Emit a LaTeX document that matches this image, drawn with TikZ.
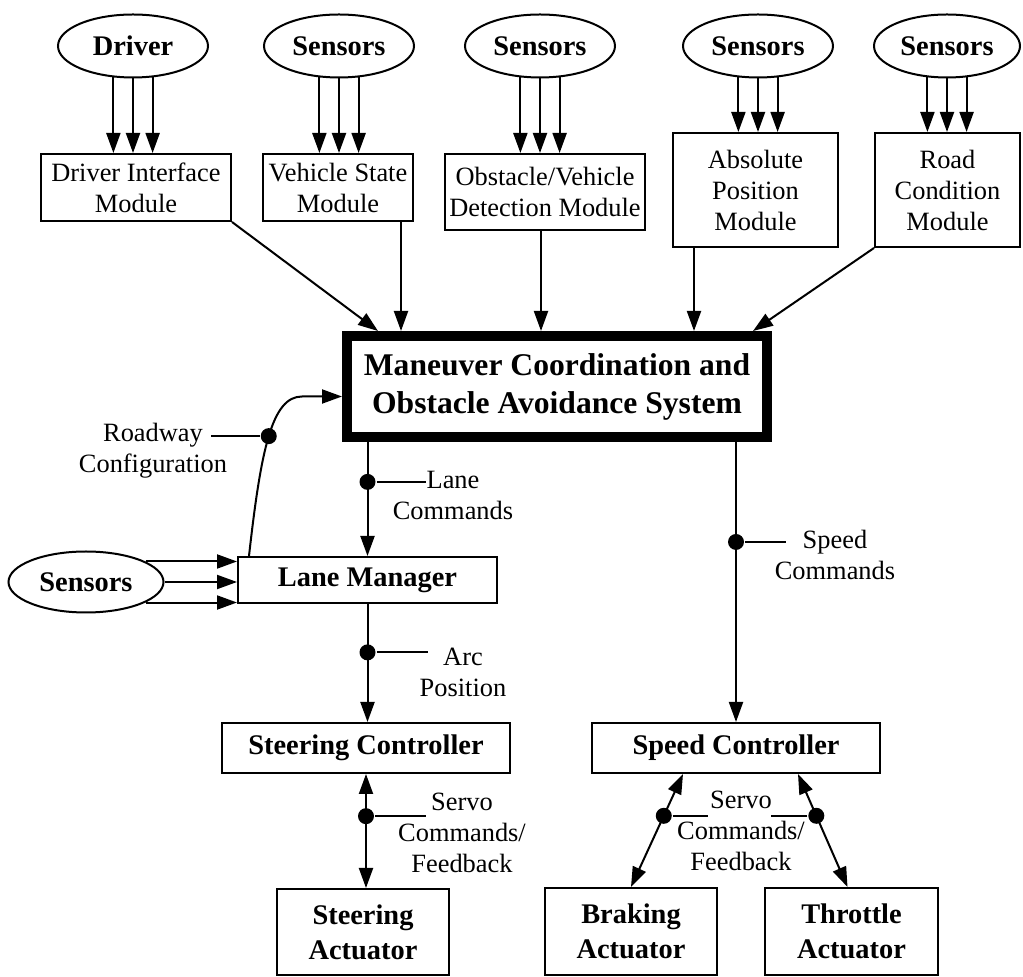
\documentclass[tikz,border=0pt]{standalone}
\usepackage{fontspec}
\setmainfont{Liberation Serif}
\usetikzlibrary{shapes.geometric, arrows.meta, calc}
\tikzset{
  mcbox/.style={rectangle, draw, line width=1pt, align=center, inner sep=1pt,
    font=\fontsize{13.2}{15.5}\selectfont},
  mcbold/.style={rectangle, draw, line width=1pt, align=center, inner sep=1pt,
    font=\fontsize{14.2}{17.5}\selectfont\bfseries},
  mcsrc/.style={ellipse, draw, line width=1pt, minimum width=75pt,
    minimum height=31.5pt, inner sep=0pt, font=\fontsize{14.2}{17}\selectfont\bfseries},
  mcmain/.style={rectangle, draw, line width=5pt, align=center,
    minimum width=210pt, minimum height=50.5pt,
    font=\fontsize{15.8}{19}\selectfont\bfseries},
  mcflow/.style={-{Triangle[length=10pt, width=7pt]}, line width=1pt},
  mcboth/.style={{Triangle[length=10pt, width=7pt]}-{Triangle[length=10pt, width=7pt]},
    line width=1pt},
  mcdot/.style={circle, fill, inner sep=0pt, minimum size=8pt},
  mcline/.style={line width=1pt},
  mclbl/.style={align=center, inner sep=0pt, font=\fontsize{13.2}{15.5}\selectfont},
}

\begin{document}
\begin{tikzpicture}[x=0.5pt, y=-0.5pt]
\useasboundingbox (0,0) rectangle (1023,977);

\node[mcsrc] (driver) at (133,46) {Driver};
\node[mcsrc] (sens1) at (339,46) {Sensors};
\node[mcsrc] (sens2) at (540,46) {Sensors};
\node[mcsrc] (sens3) at (758,46) {Sensors};
\node[mcsrc, minimum width=73pt] (sens4) at (947,46) {Sensors};

\node[mcbox, minimum width=95pt, minimum height=33.5pt] (drvif) at (136,187.5)
  {Driver Interface\\Module};
\node[mcbox, minimum width=75pt, minimum height=33.5pt] (vstate) at (338,187.5)
  {Vehicle State\\Module};
\node[mcbox, minimum width=100pt, minimum height=38pt] (obst) at (545,192)
  {Obstacle/Vehicle\\Detection Module};
\node[mcbox, minimum width=82.5pt, minimum height=57pt] (abspos) at (755.5,190)
  {Absolute\\Position\\Module};
\node[mcbox, minimum width=72.5pt, minimum height=57pt] (road) at (947.5,190)
  {Road\\Condition\\Module};

\node[mcmain] (mcoa) at (557,386.5) {Maneuver Coordination and\\Obstacle Avoidance System};

\node[mcsrc, minimum width=77.5pt, minimum height=30.5pt] (lsens) at (86,582) {Sensors};
\node[mcbold, minimum width=129.5pt, minimum height=23pt] (lane) at (367.5,580) {Lane Manager};
\node[mcbold, minimum width=144pt, minimum height=25pt] (steer) at (366,748) {Steering Controller};
\node[mcbold, minimum width=144pt, minimum height=25pt] (speed) at (736,748) {Speed Controller};
\node[mcbold, minimum width=86pt, minimum height=43pt] (steeract) at (363,932) {Steering\\Actuator};
\node[mcbold, minimum width=86pt, minimum height=43.5pt] (brake) at (631,931.5) {Braking\\Actuator};
\node[mcbold, minimum width=86.5pt, minimum height=43.5pt] (throttle) at (851.5,931.5) {Throttle\\Actuator};

\node[mclbl] (roadlbl) at (153,451) {Roadway\\Configuration};
\node[mclbl] (lanelbl) at (453,495) {Lane\\Commands};
\node[mclbl] (arclbl) at (463,672) {Arc\\Position};
\node[mclbl] (speedlbl) at (835,555) {Speed\\Commands};
\node[mclbl] (servol) at (462,833) {Servo\\Commands/\\Feedback};
\node[mclbl] (servor) at (741,831) {Servo\\Commands/\\Feedback};

\draw[mcflow] (driver.-122) -- (driver.-122 |- drvif.north);
\draw[mcflow] (driver.-90) -- (driver.-90 |- drvif.north);
\draw[mcflow] (driver.-58) -- (driver.-58 |- drvif.north);
\draw[mcflow] (sens1.-122) -- (sens1.-122 |- vstate.north);
\draw[mcflow] (sens1.-90) -- (sens1.-90 |- vstate.north);
\draw[mcflow] (sens1.-58) -- (sens1.-58 |- vstate.north);
\draw[mcflow] (sens2.-122) -- (sens2.-122 |- obst.north);
\draw[mcflow] (sens2.-90) -- (sens2.-90 |- obst.north);
\draw[mcflow] (sens2.-58) -- (sens2.-58 |- obst.north);
\draw[mcflow] (sens3.-122) -- (sens3.-122 |- abspos.north);
\draw[mcflow] (sens3.-90) -- (sens3.-90 |- abspos.north);
\draw[mcflow] (sens3.-58) -- (sens3.-58 |- abspos.north);
\draw[mcflow] (sens4.-122) -- (sens4.-122 |- road.north);
\draw[mcflow] (sens4.-90) -- (sens4.-90 |- road.north);
\draw[mcflow] (sens4.-58) -- (sens4.-58 |- road.north);

\coordinate (in2) at ($(mcoa.north west)+(59,0)$);
\coordinate (in3) at ($(mcoa.north west)+(199,0)$);
\coordinate (in4) at ($(mcoa.north west)+(352,0)$);
\draw[mcflow] (drvif.south east) -- ($(mcoa.north west)+(36,0)$);
\draw[mcflow] (vstate.south -| in2) -- (in2);
\draw[mcflow] (obst.south -| in3) -- (in3);
\draw[mcflow] (abspos.south -| in4) -- (in4);
\draw[mcflow] (road.south west) -- ($(mcoa.north east)+(-19,0)$);

\draw[mcflow] ($(lane.north west)+(12,0)$) .. controls +(12,-107) and +(-30,0) ..
  ($(mcoa.west)+(-40,10)$) node[mcdot, pos=0.5] (rdot) {} -- ($(mcoa.west)+(0,10)$);
\draw[mcline] (rdot) -- ++(-58,0);

\draw[mcflow] (lsens.19) -- (lsens.19 -| lane.west);
\draw[mcflow] (lsens.0) -- (lsens.0 -| lane.west);
\draw[mcflow] (lsens.-19) -- (lsens.-19 -| lane.west);

\draw[mcflow] (mcoa.south -| lane.north) -- node[mcdot, pos=0.35] (ldot) {} (lane.north);
\draw[mcline] (ldot) -- ++(58,0);
\draw[mcflow] (lane.south) -- node[mcdot, pos=0.41] (adot) {} (lane.south |- steer.north);
\draw[mcline] (adot) -- ++(60,0);
\draw[mcflow] (mcoa.south -| speed.north) -- node[mcdot, pos=0.357] (sdot) {} (speed.north);
\draw[mcline] (sdot) -- ++(50,0);

\draw[mcboth] (steer.south) -- node[mcdot, pos=0.37] (vdot) {} (steer.south |- steeract.north);
\draw[mcline] (vdot) -- ++(60,0);
\draw[mcboth] ($(speed.south)+(-53,0)$) -- node[mcdot, pos=0.37] (bdot) {} (brake.north);
\draw[mcline] (bdot) -- ++(44,0);
\draw[mcboth] ($(speed.south)+(62,0)$) -- node[mcdot, pos=0.37] (tdot) {} ($(throttle.north)+(-4,0)$);
\draw[mcline] (tdot) -- ++(-45,0);
\end{tikzpicture}
\end{document}
